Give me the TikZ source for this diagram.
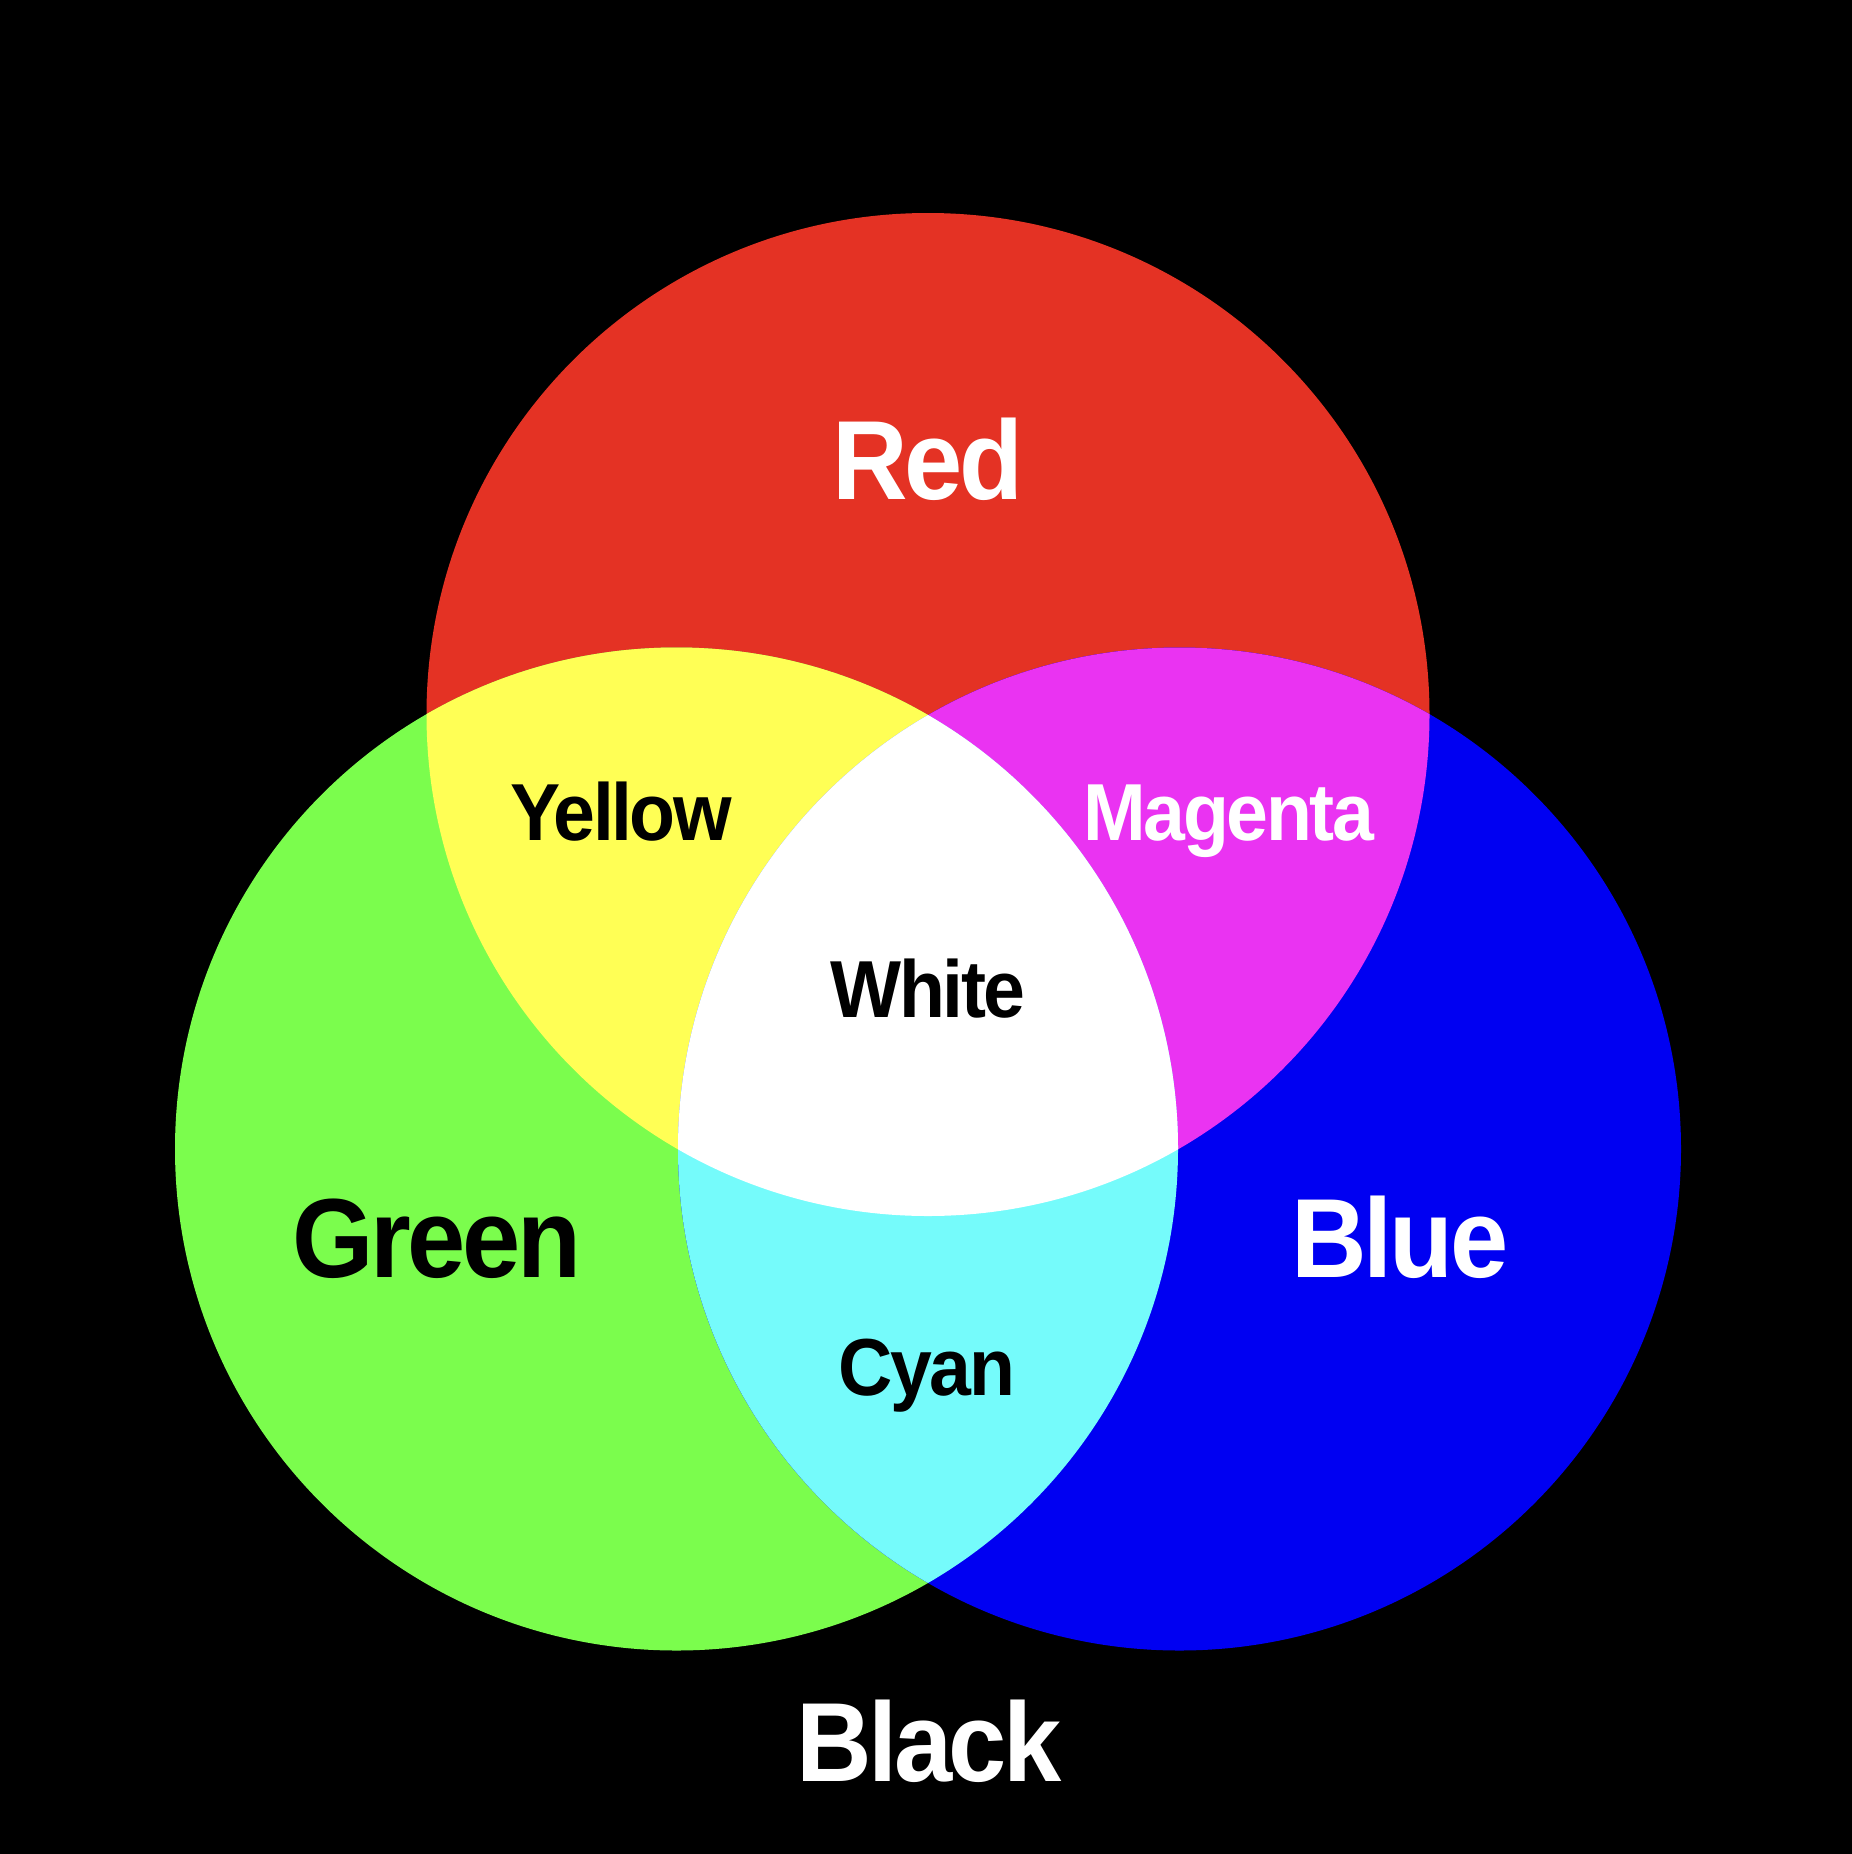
\documentclass[tikz,border=0pt]{standalone}
\usepackage{fontspec}
\newfontfamily\labfont{Liberation Sans}[FakeStretch=0.93, LetterSpace=-3]
\definecolor{cred}{RGB}{228,50,36}
\definecolor{cgreen}{RGB}{123,253,77}
\definecolor{cblue}{RGB}{0,0,242}
\definecolor{cyel}{RGB}{255,255,85}
\definecolor{cmag}{RGB}{234,51,242}
\definecolor{ccya}{RGB}{117,251,251}
\tikzset{
  big/.style={font=\labfont\bfseries\fontsize{32}{32}\selectfont, inner sep=0pt, anchor=base},
  small/.style={font=\labfont\bfseries\fontsize{23}{23}\selectfont, inner sep=0pt, anchor=base}
}
\begin{document}
\begin{tikzpicture}[x=0.01cm,y=-0.01cm]
\fill[black] (0,0) rectangle (1852,1854);
\useasboundingbox (0,0) rectangle (1852,1854);
\def\R{501.5}
\coordinate (cr) at (928,714.5);
\coordinate (cg) at (676.5,1149);
\coordinate (cb) at (1179.5,1149);
\fill[cred] (cr) circle[radius=\R];
\fill[cgreen] (cg) circle[radius=\R];
\fill[cblue] (cb) circle[radius=\R];
\begin{scope}
  \clip (cr) circle[radius=\R];
  \fill[cyel] (cg) circle[radius=\R];
  \fill[cmag] (cb) circle[radius=\R];
\end{scope}
\begin{scope}
  \clip (cg) circle[radius=\R];
  \fill[ccya] (cb) circle[radius=\R];
\end{scope}
\begin{scope}
  \clip (cr) circle[radius=\R];
  \clip (cg) circle[radius=\R];
  \fill[white] (cb) circle[radius=\R];
\end{scope}
\node[big, text=white] (red) at (928,499) {Red};
\node[small, text=black] (yellow) at (621,840) {Yellow};
\node[small, text=white] (magenta) at (1229,840) {Magenta};
\node[small, text=black] (white) at (928,1017) {White};
\node[big, text=black] (green) at (437,1277) {Green};
\node[big, text=white] (blue) at (1400,1277) {Blue};
\node[small, text=black] (cyan) at (927,1395) {Cyan};
\node[big, text=white] (black) at (929,1781) {Black};
\end{tikzpicture}
\end{document}
